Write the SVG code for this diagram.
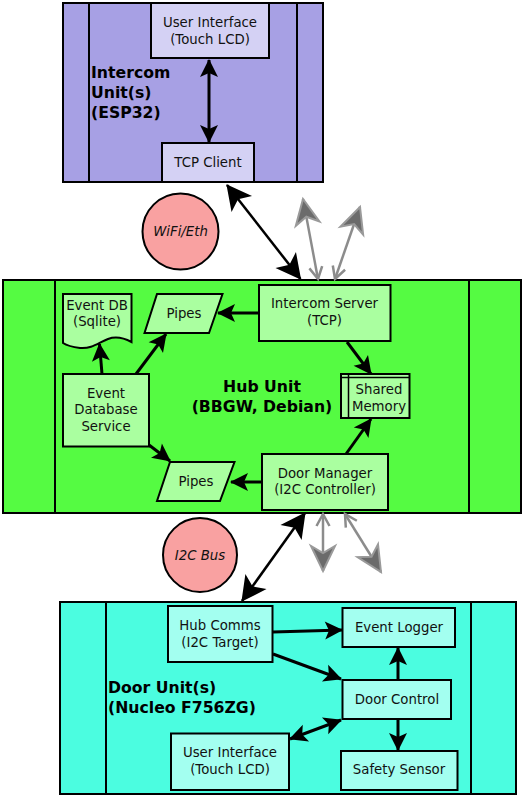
<svg xmlns="http://www.w3.org/2000/svg" width="525" height="796" viewBox="0 0 525 796">
<defs>
<style>
.unit{stroke:#000;stroke-width:2}
.sep{stroke:#000;stroke-width:2;fill:none}
.nd{stroke:#000;stroke-width:2}
.t{font-family:"DejaVu Sans","Liberation Sans",sans-serif;font-size:13.3px;fill:#111;text-anchor:middle}
.lb{font-family:"DejaVu Sans","Liberation Sans",sans-serif;font-size:15.7px;font-weight:bold;fill:#000}
.ci{font-family:"DejaVu Sans","Liberation Sans",sans-serif;font-size:13.3px;font-style:italic;fill:#111;text-anchor:middle}
.c{stroke:#000;stroke-width:3;fill:none}
.cl{stroke:#000;stroke-width:2.5;fill:none}
.g{stroke:#8c8c8c;stroke-width:2.5;fill:none}
</style>
<marker id="ah" markerUnits="userSpaceOnUse" markerWidth="30" markerHeight="30" refX="0" refY="0" orient="auto-start-reverse" overflow="visible">
<path d="M1,0 L-17,-9 L-13,0 L-17,9 Z" fill="#000"/>
</marker>
<marker id="ahL" markerUnits="userSpaceOnUse" markerWidth="40" markerHeight="40" refX="0" refY="0" orient="auto-start-reverse" overflow="visible">
<path d="M1,0 L-24,-13 L-18,0 L-24,13 Z" fill="#000"/>
</marker>
<marker id="gh" markerUnits="userSpaceOnUse" markerWidth="40" markerHeight="40" refX="0" refY="0" orient="auto" overflow="visible">
<path d="M0,0 L-25,-12 L-18,0 L-25,12 Z" fill="#6b6b6b" stroke="#9a9a9a" stroke-width="2"/>
</marker>
<marker id="gv" markerUnits="userSpaceOnUse" markerWidth="30" markerHeight="30" refX="0" refY="0" orient="auto-start-reverse" overflow="visible">
<path d="M-12,-6.5 L0,0 L-12,6.5" fill="none" stroke="#8c8c8c" stroke-width="2.5"/>
</marker>
</defs>

<g id="intercom-unit">
<rect class="unit" x="63" y="3" width="260" height="179" fill="#a7a0e4"/>
<line class="sep" x1="89" y1="3" x2="89" y2="182"/>
<line class="sep" x1="297" y1="3" x2="297" y2="182"/>
<text class="lb" x="91" y="78">Intercom</text>
<text class="lb" x="91" y="98">Unit(s)</text>
<text class="lb" x="91" y="118">(ESP32)</text>
</g>
<g id="intercom-ui">
<rect class="nd" x="151" y="3" width="118" height="55" fill="#d4d1f4"/>
<text class="t" x="210" y="27">User Interface</text>
<text class="t" x="210" y="43.5">(Touch LCD)</text>
</g>
<g id="tcp-client">
<rect class="nd" x="162" y="143" width="92" height="39" fill="#d4d1f4"/>
<text class="t" x="208" y="166.5">TCP Client</text>
</g>

<g id="wifi-eth">
<circle cx="180.5" cy="231.5" r="38" fill="#f9a1a1" stroke="#000" stroke-width="2"/>
<text class="ci" x="180.5" y="236">WiFi/Eth</text>
</g>

<g id="hub-unit">
<rect class="unit" x="3" y="280" width="518" height="233" fill="#55fb42"/>
<line class="sep" x1="55" y1="280" x2="55" y2="513"/>
<line class="sep" x1="469" y1="280" x2="469" y2="513"/>
<text class="lb" x="262" y="392" text-anchor="middle">Hub Unit</text>
<text class="lb" x="262" y="412" text-anchor="middle">(BBGW, Debian)</text>
</g>
<g id="intercom-server">
<rect class="nd" x="259" y="285" width="131.5" height="56" fill="#aaffa0"/>
<text class="t" x="324.5" y="307.5">Intercom Server</text>
<text class="t" x="324.5" y="324.5">(TCP)</text>
</g>
<g id="pipes-top">
<polygon class="nd" points="144.5,333 157,294 222.5,294 209,333" fill="#aaffa0"/>
<text class="t" x="184" y="318">Pipes</text>
</g>
<g id="event-db">
<path class="nd" d="M63,294 H131.5 V342 C124,338 116,336 108,339 C98,343 92,349 80,348 C72,347 66,345 63,343 Z" fill="#aaffa0"/>
<text class="t" x="97" y="309.5">Event DB</text>
<text class="t" x="97" y="325.5">(Sqlite)</text>
</g>
<g id="event-db-service">
<rect class="nd" x="63" y="374" width="86" height="72.5" fill="#aaffa0"/>
<text class="t" x="106" y="397.5">Event</text>
<text class="t" x="106" y="414">Database</text>
<text class="t" x="106" y="430.5">Service</text>
</g>
<g id="shared-memory">
<rect class="nd" x="341" y="374" width="68.5" height="44" fill="#aaffa0"/>
<line x1="341" y1="377.5" x2="409.5" y2="377.5" stroke="#000" stroke-width="1.5"/>
<line x1="348.5" y1="374" x2="348.5" y2="418" stroke="#000" stroke-width="1.5"/>
<text class="t" x="379" y="393.5">Shared</text>
<text class="t" x="379" y="410.5">Memory</text>
</g>
<g id="pipes-bottom">
<polygon class="nd" points="157,501 170,462 234.5,462 220,501" fill="#aaffa0"/>
<text class="t" x="196" y="486">Pipes</text>
</g>
<g id="door-manager">
<rect class="nd" x="262" y="454" width="126" height="56" fill="#aaffa0"/>
<text class="t" x="325" y="477.5">Door Manager</text>
<text class="t" x="325" y="494">(I2C Controller)</text>
</g>

<g id="i2c-bus">
<circle cx="200" cy="555" r="37" fill="#f9a1a1" stroke="#000" stroke-width="2"/>
<text class="ci" x="200" y="559.5">I2C Bus</text>
</g>

<g id="door-unit">
<rect class="unit" x="60" y="602" width="456" height="192" fill="#4bfde0"/>
<line class="sep" x1="106" y1="602" x2="106" y2="794"/>
<line class="sep" x1="471" y1="602" x2="471" y2="794"/>
<text class="lb" x="108" y="693">Door Unit(s)</text>
<text class="lb" x="108" y="713">(Nucleo F756ZG)</text>
</g>
<g id="hub-comms">
<rect class="nd" x="168" y="606" width="104.5" height="56" fill="#a3fff0"/>
<text class="t" x="220" y="630">Hub Comms</text>
<text class="t" x="220" y="647">(I2C Target)</text>
</g>
<g id="event-logger">
<rect class="nd" x="342.5" y="608" width="112.5" height="39" fill="#a3fff0"/>
<text class="t" x="399" y="632">Event Logger</text>
</g>
<g id="door-control">
<rect class="nd" x="342.5" y="680" width="108.5" height="39" fill="#a3fff0"/>
<text class="t" x="397" y="704">Door Control</text>
</g>
<g id="door-ui">
<rect class="nd" x="171" y="733.5" width="118" height="56.5" fill="#a3fff0"/>
<text class="t" x="230" y="757">User Interface</text>
<text class="t" x="230" y="773.5">(Touch LCD)</text>
</g>
<g id="safety-sensor">
<rect class="nd" x="341" y="751" width="116.5" height="39" fill="#a3fff0"/>
<text class="t" x="399" y="774">Safety Sensor</text>
</g>

<g id="connectors">
<path class="c" d="M209,60 L209,142" marker-start="url(#ah)" marker-end="url(#ah)"/>
<path class="cl" d="M227,185 L300.5,279" marker-start="url(#ahL)" marker-end="url(#ahL)"/>
<path class="g" d="M318,279 L303,199" marker-start="url(#gv)" marker-end="url(#gh)"/>
<path class="g" d="M335,279 L360,207" marker-start="url(#gv)" marker-end="url(#gh)"/>
<path class="c" d="M259,313 L218,313" marker-end="url(#ah)"/>
<path class="c" d="M136,374 L166,334" marker-end="url(#ah)"/>
<path class="c" d="M102,374 L99.5,344" marker-end="url(#ah)"/>
<path class="c" d="M149,445 L170,461" marker-end="url(#ah)"/>
<path class="c" d="M347,342 L371,374" marker-end="url(#ah)"/>
<path class="c" d="M346,454 L371,419" marker-end="url(#ah)"/>
<path class="c" d="M262,482 L231,482" marker-end="url(#ah)"/>
<path class="cl" d="M305,513 L242,601" marker-start="url(#ahL)" marker-end="url(#ahL)"/>
<path class="g" d="M323,514 L323,571" marker-start="url(#gv)" marker-end="url(#gh)"/>
<path class="g" d="M345,514 L381,572" marker-start="url(#gv)" marker-end="url(#gh)"/>
<path class="c" d="M273,632 L342,630" marker-end="url(#ah)"/>
<path class="c" d="M273,654 L341,679" marker-end="url(#ah)"/>
<path class="c" d="M398,680 L398,648" marker-end="url(#ah)"/>
<path class="c" d="M398,719 L398,750" marker-end="url(#ah)"/>
<path class="c" d="M341,720 L290,739" marker-start="url(#ah)" marker-end="url(#ah)"/>
</g>
</svg>
